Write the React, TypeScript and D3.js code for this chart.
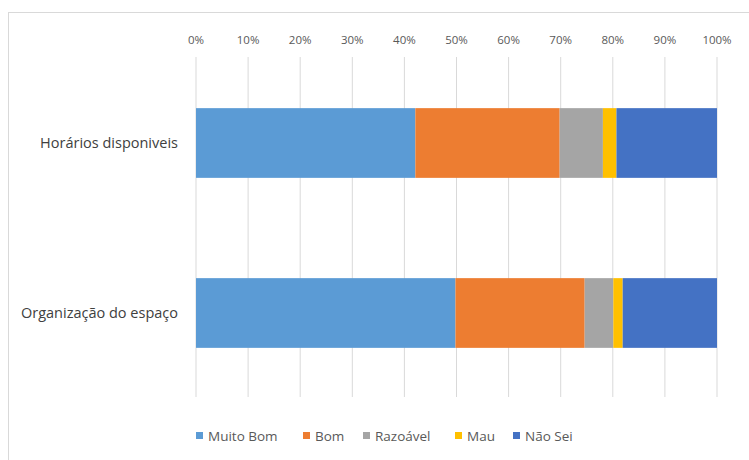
import React from "react";
import * as d3 from "d3";

const categories = ["Horários disponiveis", "Organização do espaço"];
const seriesNames = ["Muito Bom", "Bom", "Razoável", "Mau", "Não Sei"];
const seriesColors = ["#5B9BD5", "#ED7D31", "#A5A5A5", "#FFC000", "#4472C4"];
// percentage shares per category, in series order
const muitoBom = [42.1, 49.8];
const bom = [27.7, 24.8];
const razoavel = [8.3, 5.5];
const mau = [2.6, 1.8];
const naoSei = [19.3, 18.1];
const tickValues = [0, 10, 20, 30, 40, 50, 60, 70, 80, 90, 100];

const W = 749;
const H = 460;
const FONT = "'Open Sans', 'DejaVu Sans', sans-serif";

export default function App() {
  const series = [muitoBom, bom, razoavel, mau, naoSei];
  const rows = categories.map((c, i) => {
    const r: any = { category: c };
    seriesNames.forEach((s, j) => (r[s] = series[j][i]));
    return r;
  });
  const stacked = d3.stack<any>().keys(seriesNames)(rows);

  const x = d3.scaleLinear().domain([0, 100]).range([196, 717]);
  const y = d3
    .scaleBand<string>()
    .domain(categories)
    .range([58, 398])
    .paddingInner(0.59)
    .paddingOuter(0.295);

  const legendX = [196, 303, 363, 455, 513];

  return (
    <svg
      width={W}
      height={H}
      style={{ position: "absolute", left: 0, top: 0, background: "#fff" }}
    >
      <rect x={8.5} y={12.5} width={760} height={470} fill="#fff" stroke="#D9D9D9" />
      {tickValues.map((t) => (
        <g key={t}>
          <line
            x1={x(t)}
            x2={x(t)}
            y1={57}
            y2={397}
            stroke="#D9D9D9"
            strokeWidth={1}
          />
          <text
            x={x(t)}
            y={44}
            textAnchor="middle"
            fontFamily={FONT}
            fontSize={11.5}
            fill="#595959"
          >
            {t}%
          </text>
        </g>
      ))}
      {stacked.map((layer, j) => (
        <g key={layer.key} fill={seriesColors[j]}>
          {layer.map((d, i) => (
            <rect
              key={i}
              x={x(d[0])}
              width={x(d[1]) - x(d[0])}
              y={y(categories[i])}
              height={y.bandwidth()}
            />
          ))}
        </g>
      ))}
      {categories.map((c) => (
        <text
          key={c}
          x={178}
          y={(y(c) as number) + y.bandwidth() / 2}
          dy="0.35em"
          textAnchor="end"
          fontFamily={FONT}
          fontSize={14.5}
          fill="#404040"
        >
          {c}
        </text>
      ))}
      {seriesNames.map((s, j) => (
        <g key={s} transform={`translate(${legendX[j]},436)`}>
          <rect x={0} y={-4} width={7} height={7} fill={seriesColors[j]} />
          <text
            x={12}
            y={0}
            dy="0.35em"
            fontFamily={FONT}
            fontSize={13.5}
            fill="#595959"
          >
            {s}
          </text>
        </g>
      ))}
    </svg>
  );
}
